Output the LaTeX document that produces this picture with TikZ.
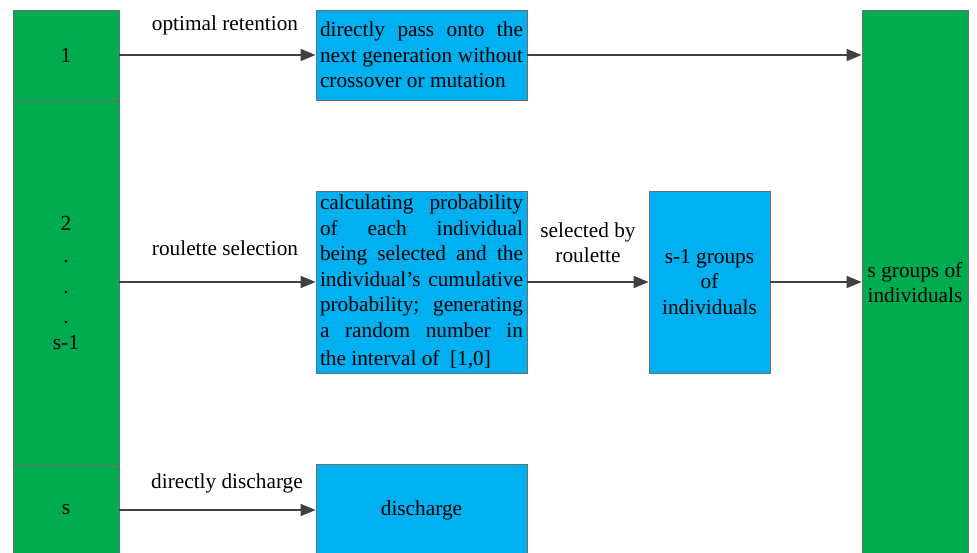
\documentclass[tikz,border=0pt]{standalone}
\usepackage{fontspec}
\setmainfont{Liberation Serif}
\usetikzlibrary{arrows.meta,calc}
\definecolor{gfill}{RGB}{0,172,80}
\definecolor{bfill}{RGB}{0,176,240}
\definecolor{edge}{RGB}{110,110,110}
\definecolor{arr}{RGB}{64,64,64}
\tikzset{
  gbox/.style={draw=edge, line width=0.8pt, fill=gfill, inner sep=0pt, align=center, font=\fontsize{21.5}{25.5}\selectfont},
  bbox/.style={draw=edge, line width=0.8pt, fill=bfill, inner sep=0pt, align=center, font=\fontsize{21.3}{25.5}\selectfont},
  lbl/.style={inner sep=0pt, align=center, font=\fontsize{21.3}{25}\selectfont},
  conn/.style={draw=arr, line width=1.6pt, -{Triangle[length=15pt,width=12pt]}}
}
\newcommand{\jl}[1]{\makebox[203pt][s]{#1}}
\newcommand{\jlb}[1]{\makebox[203pt][l]{#1}}
\begin{document}
\begin{tikzpicture}[x=1pt,y=-1pt]
\useasboundingbox (0,0) rectangle (977,552);
% left column
\node[gbox, minimum width=106pt, minimum height=90pt] (L1) at (66,55) {1};
\node[gbox, minimum width=106pt, minimum height=364pt] (L2) at (66,282) {};
\node[lbl, font=\fontsize{21.5}{25}\selectfont] (L2t) at (66,283) {2\\[7pt].\\[6pt].\\[5pt].\\[1pt]s-1};
\node[gbox, minimum width=106pt, minimum height=92pt] (L3) at (66,510) {s};
% right column
\node[gbox, minimum width=106pt, minimum height=546pt] (R) at (915,283) {};
\node[lbl] (Rt) at (915,283) {s groups of\\individuals};
% middle boxes
\node[bbox, minimum width=211pt, minimum height=90pt] (B1) at (421.5,55)
  {\jl{directly pass onto the}\\\jl{next generation without}\\\jlb{crossover or mutation}};
\node[bbox, minimum width=211pt, minimum height=182pt] (B2) at (421.5,282)
  {\jl{calculating probability}\\\jl{of each individual}\\\jl{being selected and the}\\\jl{individual's cumulative}\\\jl{probability; generating}\\\jl{a random number in}\\[3pt]\jlb{the interval of\ \ [1,0]}};
\node[bbox, minimum width=121pt, minimum height=182pt] (B3) at (709.5,282)
  {s-1 groups\\of\\individuals};
\node[bbox, minimum width=211pt, minimum height=92pt] (B4) at (421.5,510) {discharge};
% labels
\node[lbl] (t1) at (225,25) {optimal retention};
\node[lbl] (t2) at (225,248) {roulette selection};
\node[lbl] (t3) at (227,483) {directly discharge};
\node[lbl] (t4) at (588,243) {selected by\\roulette};
% connectors
\draw[conn] (L1.east) -- (B1.west);
\draw[conn] (B1.east) -- (B1.east -| R.west);
\draw[conn] (L2.east) -- (B2.west);
\draw[conn] (B2.east) -- (B3.west);
\draw[conn] (B3.east) -- (B3.east -| R.west);
\draw[conn] (L3.east |- B4.west) -- (B4.west);
\end{tikzpicture}
\end{document}
